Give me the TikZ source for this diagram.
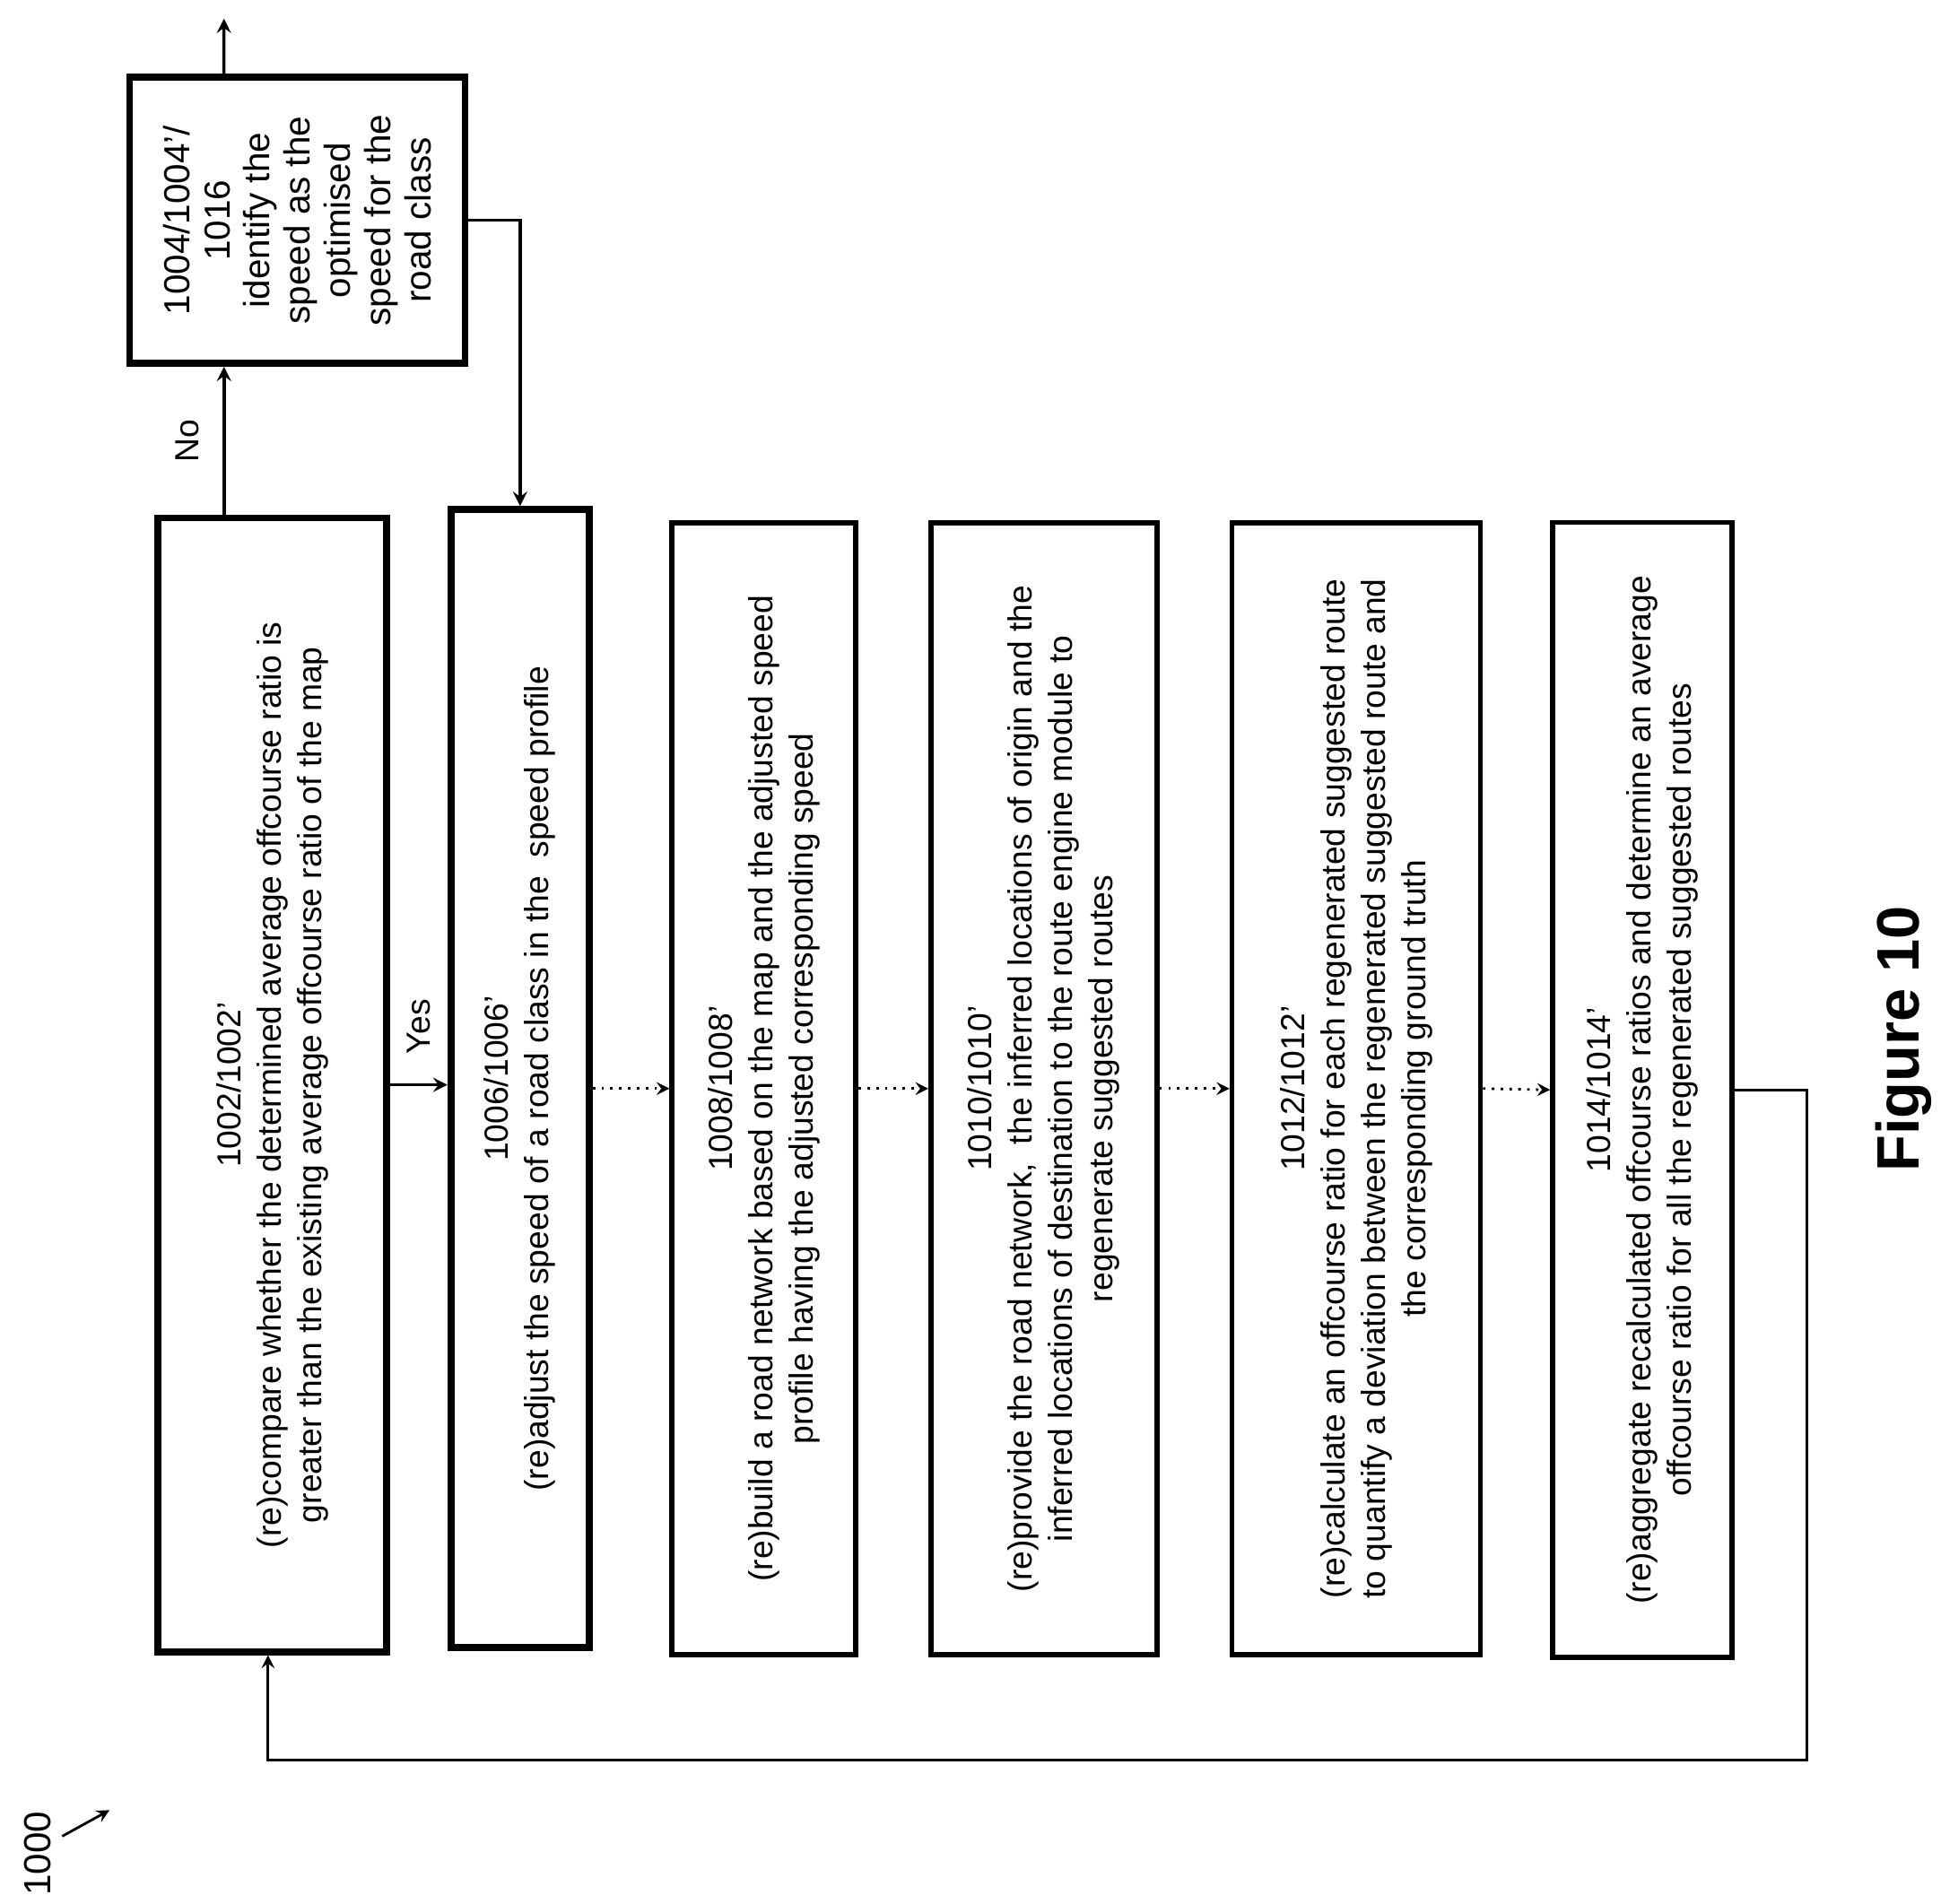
\documentclass[tikz,border=0pt]{standalone}
\usepackage{fontspec}
\setmainfont{Liberation Sans}
\usetikzlibrary{arrows,positioning,calc}

\begin{document}
\begin{tikzpicture}[x=0.01387cm, y=-0.01387cm, >=stealth, thick,
       every node/.style={font=\fontsize{10.6}{12.8}\selectfont},
       step/.style n args = {3}{rectangle, rotate=90, draw, line width=#3,
                             minimum width=#1, minimum height=#2,
                             align=center, inner sep=2pt},
       flow/.style = {->, line width=1pt},
       dotflow/.style = {->, line width=0.8pt, dotted}]
	\useasboundingbox (0,0) rectangle (1560,1530);

	%% Steps
	\node [step={12.64cm}{2.55cm}{2.2pt}] (s1002) at (219,872) {1002/1002'\\(re)compare whether the determined average offcourse ratio is\\greater than the existing average offcourse ratio of the map};
	\node [step={12.69cm}{1.54cm}{2.2pt}] (s1006) at (418,867) {1006/1006'\\(re)adjust the speed of a road class in the\ \ speed profile};
	\node [step={12.62cm}{2.05cm}{1.6pt}] (s1008) at (614,875) {1008/1008'\\(re)build a road network based on the map and the adjusted speed\\profile having the adjusted corresponding speed};
	\node [step={12.62cm}{2.52cm}{1.6pt}] (s1010) at (839,875) {1010/1010'\\(re)provide the road network,\ \ the inferred locations of origin and the\\inferred locations of destination to the route engine module to\\regenerate suggested routes};
	\node [step={12.62cm}{2.77cm}{1.6pt}] (s1012) at (1090,875) {1012/1012'\\(re)calculate an offcourse ratio for each regenerated suggested route\\to quantify a deviation between the regenerated suggested route and\\the corresponding ground truth};
	\node [step={12.65cm}{2.0cm}{1.6pt}] (s1014) at (1320,876) {1014/1014'\\(re)aggregate recalculated offcourse ratios and determine an average\\offcourse ratio for all the regenerated suggested routes};
	\node [step={3.19cm}{3.74cm}{2.2pt}, font=\fontsize{11.5}{12.8}\selectfont] (s1004) at (239,177) {1004/1004'/\\1016\\identify the\\speed as the\\optimised\\speed for the\\road class};

	%% Free ends
	\coordinate (exit) at (180,15);
	\coordinate (loop) at (1452,1415);
	\coordinate (ref0) at (50,1476);
	\coordinate (ref) at (88,1455);

	%% Paths
	\draw[flow] ([xshift=-0.54cm]s1002.east) -- ([xshift=-0.54cm]s1002.east |- s1004.west)
	          node[midway, left=4pt, rotate=90, anchor=south] {No};
	\draw[flow] ([xshift=-0.82cm]s1004.east) -- (exit);
	\draw[flow] (s1004.south) -| (s1006.east);
	\draw[flow] (s1002.south) -- (s1002.south -| s1006.north)
	          node[midway, yshift=6pt, rotate=90, anchor=west] {Yes};
	\draw[dotflow] (s1006.south |- s1008.center) -- (s1008.north);
	\draw[dotflow] (s1008.south) -- (s1010.north);
	\draw[dotflow] (s1010.south) -- (s1012.north);
	\draw[dotflow] (s1012.south) -- (s1014.north);
	\draw[flow, line width=0.8pt] (s1014.south) -- (s1014.south -| loop) -- (loop) -| ([xshift=-0.05cm]s1002.west);

	%% Labels
	\node [rotate=90, font=\fontsize{12}{14}\selectfont] (fig) at (30,1490) {1000};
	\draw[->, line width=0.8pt] (ref0) -- (ref);
	\node [rotate=90, font=\fontsize{19}{22}\selectfont\bfseries] (title) at (1530,835) {Figure 10};
\end{tikzpicture}
\end{document}
